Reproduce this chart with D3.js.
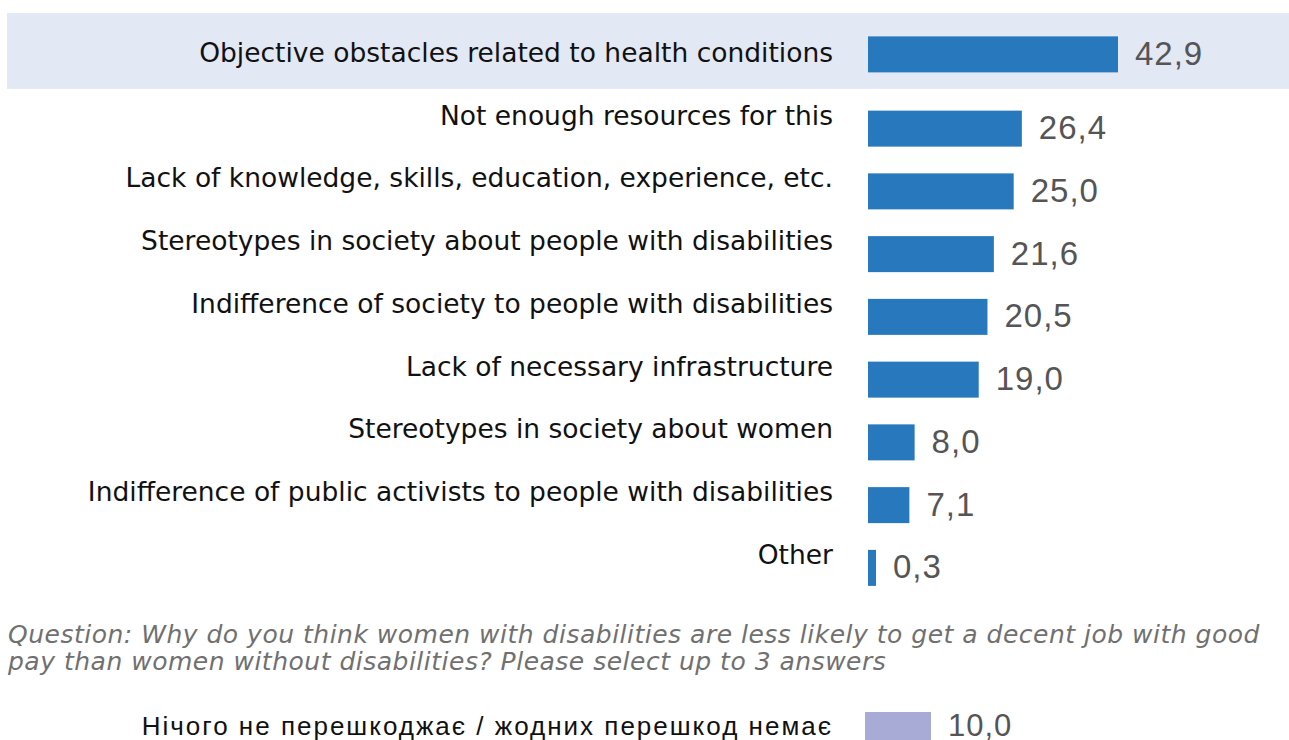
<!DOCTYPE html>
<html>
<head>
<meta charset="utf-8">
<script src="https://cdn.jsdelivr.net/npm/d3@7"></script>
<style>
  body { margin: 0; background: #fff; }
  svg { display: block; }
</style>
</head>
<body>
<div id="chart"></div>
<script>
var width = 1289,
  height = 740;

// main question answers, %
var categories = [
  "Objective obstacles related to health conditions",
  "Not enough resources for this",
  "Lack of knowledge, skills, education, experience, etc.",
  "Stereotypes in society about people with disabilities",
  "Indifference of society to people with disabilities",
  "Lack of necessary infrastructure",
  "Stereotypes in society about women",
  "Indifference of public activists to people with disabilities",
  "Other"
];
var values = [42.9, 26.4, 25.0, 21.6, 20.5, 19.0, 8.0, 7.1, 0.3];

var questionLines = [
  "Question: Why do you think women with disabilities are less likely to get a decent job with good",
  "pay than women without disabilities? Please select up to 3 answers"
];

// second block (cut off at the bottom)
var extraCategories = ["Нічого не перешкоджає / жодних перешкод немає"];
var extraValues = [10.0];

var fmt = function(v) { return d3.format(".1f")(v).replace(".", ","); };

var svg = d3.select("#chart").append("svg")
  .attr("width", width)
  .attr("height", height);

var y = d3.scaleBand()
  .domain(categories)
  .range([21, 21 + categories.length * 62.75]);

var x = d3.scaleLinear()
  .domain([0, 42.9])
  .range([868, 1118]);

var rowCenter = function(d) { return y(d) + y.bandwidth() / 2; };
// first row's bar sits level with its label, the rest sit a bit lower
var barCenter = function(d, i) { return rowCenter(d) + (i === 0 ? 2 : 13.5); };
var barW = function(i) { return Math.max(x(values[i]) - x(0), 8); };

// highlight band on the first row
svg.append("rect")
  .attr("x", 7)
  .attr("y", rowCenter(categories[0]) - 39.5)
  .attr("width", width - 7)
  .attr("height", 76)
  .attr("fill", "#e3e8f5");

var rows = svg.append("g").selectAll("g")
  .data(categories)
  .enter().append("g");

rows.append("text")
  .attr("x", 833)
  .attr("y", function(d) { return rowCenter(d) + 9.5; })
  .attr("text-anchor", "end")
  .attr("font-family", "'DejaVu Sans', sans-serif")
  .attr("font-size", 26.5)
  .attr("fill", "#111")
  .text(function(d) { return d; });

rows.append("rect")
  .attr("x", x(0))
  .attr("y", function(d, i) { return barCenter(d, i) - 18; })
  .attr("width", function(d, i) { return barW(i); })
  .attr("height", 36)
  .attr("fill", "#2878be");

rows.append("text")
  .attr("x", function(d, i) { return x(0) + barW(i) + 17; })
  .attr("y", function(d, i) { return barCenter(d, i) + 10.5; })
  .attr("font-family", "'Liberation Sans', Arial, sans-serif")
  .attr("font-size", 33)
  .attr("letter-spacing", 1)
  .attr("fill", "#555")
  .text(function(d, i) { return fmt(values[i]); });

// question note
svg.append("g").selectAll("text")
  .data(questionLines)
  .enter().append("text")
  .attr("x", 8)
  .attr("y", function(d, i) { return 643 + i * 27; })
  .attr("font-family", "'DejaVu Sans', sans-serif")
  .attr("font-style", "italic")
  .attr("font-size", 25)
  .attr("letter-spacing", 0.5)
  .attr("fill", "#707070")
  .text(function(d) { return d; });

// second chart block
var xB = d3.scaleLinear()
  .domain([0, 10])
  .range([865, 931]);

var yB = d3.scaleBand()
  .domain(extraCategories)
  .range([712, 768]);

var extra = svg.append("g").selectAll("g")
  .data(extraCategories)
  .enter().append("g");

extra.append("text")
  .attr("x", 833)
  .attr("y", function(d) { return yB(d) + 23; })
  .attr("text-anchor", "end")
  .attr("font-family", "'Liberation Sans', Arial, sans-serif")
  .attr("font-size", 26)
  .attr("letter-spacing", 2)
  .attr("fill", "#111")
  .text(function(d) { return d; });

extra.append("rect")
  .attr("x", xB(0))
  .attr("y", function(d) { return yB(d); })
  .attr("width", function(d, i) { return xB(extraValues[i]) - xB(0); })
  .attr("height", 36)
  .attr("fill", "#a9abd7");

extra.append("text")
  .attr("x", function(d, i) { return xB(extraValues[i]) + 17; })
  .attr("y", function(d) { return yB(d) + 23.5; })
  .attr("font-family", "'Liberation Sans', Arial, sans-serif")
  .attr("font-size", 31)
  .attr("letter-spacing", 1)
  .attr("fill", "#555")
  .text(function(d, i) { return fmt(extraValues[i]); });
</script>
</body>
</html>
